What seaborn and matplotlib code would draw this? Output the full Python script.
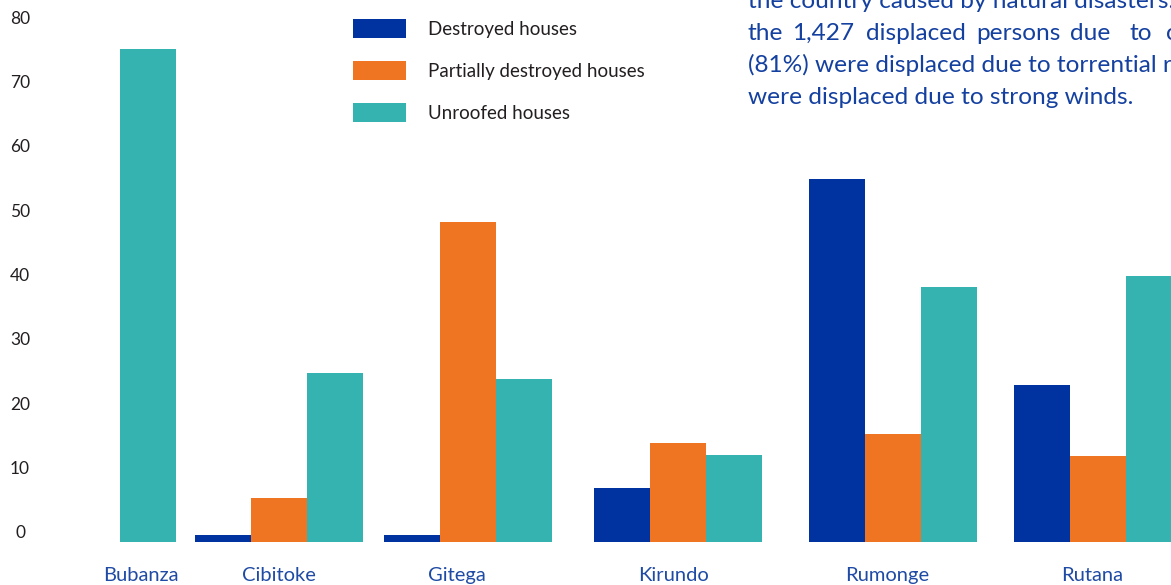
import matplotlib
matplotlib.use("Agg")
import matplotlib.pyplot as plt
import matplotlib.transforms as mtransforms
import numpy as np
import pandas as pd
import seaborn as sns

# Houses affected by natural disasters, per province
provinces = ['Bubanza', 'Cibitoke', 'Gitega', 'Kirundo', 'Rumonge', 'Rutana']
destroyed = [0, 1.1, 1.1, 8.4, 56.4, 24.4]
partially_destroyed = [0, 6.8, 49.7, 15.4, 16.8, 13.4]
unroofed = [76.6, 26.3, 25.3, 13.5, 39.6, 41.3]
series_names = ['Destroyed houses', 'Partially destroyed houses', 'Unroofed houses']
y_ticks = [0, 10, 20, 30, 40, 50, 60, 70, 80]

# layout (the groups in the source are not evenly spaced)
group_pos = [92, 279, 468, 678, 893, 1098]
label_pos = [141, 279, 457, 674, 887, 1092]
colors = ['#0033a0', '#f07522', '#34b3b0']

rows = []
for i, p in enumerate(provinces):
    rows.append((group_pos[i], p, series_names[0], destroyed[i]))
    rows.append((group_pos[i], p, series_names[1], partially_destroyed[i]))
    rows.append((group_pos[i], p, series_names[2], unroofed[i]))
df = pd.DataFrame(rows, columns=['pos', 'province', 'type', 'count'])

sns.set_style('white')
plt.rcParams['font.family'] = ['Lato', 'DejaVu Sans']

W, H = 1171, 585
px_per_unit = 6.4375
fig = plt.figure(figsize=(W / 100, H / 100), dpi=100)
ax = fig.add_axes([45 / W, 40 / H, 1 - 45 / W, 545 / H])

sns.barplot(data=df, x='pos', y='count', hue='type', hue_order=series_names,
            palette=colors, native_scale=True, width=168 / 187,
            saturation=1, linewidth=0, ax=ax)

ax.set_xlim(45, W)
ax.set_ylim(-3 / px_per_unit, 542 / px_per_unit)
sns.despine(ax=ax, left=True, bottom=True)
ax.set_xlabel('')
ax.set_ylabel('')

ax.set_xticks(label_pos)
ax.set_xticklabels(provinces, color='#1f4ba5', fontsize=14.5)
ax.set_yticks(y_ticks)
ax.set_yticklabels([str(t) for t in y_ticks], color='#231f20', fontsize=12.5, ha='center')
ax.tick_params(axis='both', length=0)
ax.tick_params(axis='y', pad=18)
ax.tick_params(axis='x', pad=16)
shift = mtransforms.ScaledTranslation(0, 10 / 100, fig.dpi_scale_trans)
for lab in ax.get_yticklabels():
    lab.set_transform(lab.get_transform() + shift)

sns.move_legend(ax, 'upper left', bbox_to_anchor=(353 / W, 1 - 19 / H),
                bbox_transform=fig.transFigure, frameon=False, title=None,
                fontsize=13.5, handlelength=2.83, handleheight=1.17,
                handletextpad=1.17, labelspacing=1.24, borderpad=0, borderaxespad=0)
for t in ax.get_legend().get_texts():
    t.set_color('#231f20')

# text block from the surrounding page, cut off at the edges
txt_color = '#1440a0'
txt_kw = dict(color=txt_color, fontsize=17.6, va='baseline', ha='left')
fig.text(748 / W, 1 - 8 / H, 'the country caused by natural disasters.', **txt_kw)
words = ['the', '1,427', 'displaced', 'persons', 'due', 'to', 'c']
word_x = [748, 792, 866, 976, 1070, 1130, 1166]
for w, x in zip(words, word_x):
    fig.text(x / W, 1 - 40 / H, w, **txt_kw)
fig.text(748 / W, 1 - 72 / H, '(81%) were displaced due to torrential r', **txt_kw)
fig.text(748 / W, 1 - 104 / H, 'were displaced due to strong winds.', **txt_kw)

fig.savefig('out.png', dpi=100)
